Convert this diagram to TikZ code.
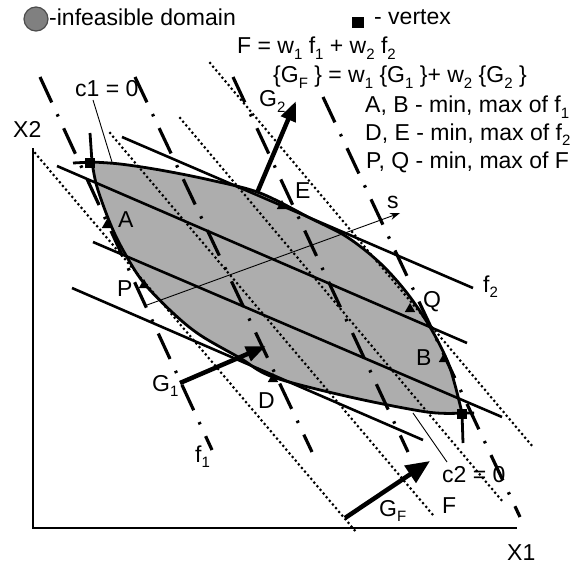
\documentclass[tikz,border=0pt]{standalone}
\usepackage{fontspec}
\setmainfont{Liberation Sans}
\usetikzlibrary{arrows.meta,shapes.geometric}
\newcommand\sbx[1]{\raisebox{-0.25em}{\fontsize{15}{15}\selectfont #1}}
\begin{document}
\begin{tikzpicture}[x=1pt,y=-1pt,
  lab/.style={font=\fontsize{23}{26}\selectfont, inner sep=0pt, anchor=base west},
  fone/.style={line width=3.2pt, dash pattern=on 28pt off 13pt on 2.5pt off 13pt},
  ftwo/.style={line width=2.6pt},
  fdot/.style={line width=3pt, line cap=round, dash pattern=on 0pt off 4.8pt},
  bnd/.style={line width=2.8pt, line join=round},
  grad/.style={line width=4.5pt, -{Triangle[length=20pt,width=15pt]}},
  thinl/.style={line width=0.9pt},
  tri/.style={regular polygon, regular polygon sides=3, fill=black, inner sep=0pt, minimum size=12pt},
  vtx/.style={fill=black, inner sep=0pt, minimum size=10pt},
  dom/.style={fill=black!32},
]
\useasboundingbox (0,0) rectangle (577,564);

% domain fill
\fill[dom] plot[smooth, tension=0.55] coordinates {(92,162) (120,164) (160,170) (210,180) (260,193) (310,218) (347,237) (380,263) (407,293) (430,327) (447,360) (455,385) (462,413)}
  -- plot[smooth, tension=0.55] coordinates {(462,413) (427,412) (350,397) (273,377) (240,358) (200,335) (173,313) (143,282) (123,250) (110,223) (97,187) (92,162)} -- cycle;

% axes
\coordinate (ax0) at (33,528);
\coordinate (ax2) at (33,148);
\coordinate (ax1) at (517,528);
\draw[line width=1.5pt] (ax2) -- (ax0) -- (ax1);

% F contours (dotted)
\coordinate (d1a) at (35,153);  \coordinate (d1b) at (357,533);
\coordinate (d2a) at (110,133); \coordinate (d2b) at (433,515);
\coordinate (d3a) at (180,118); \coordinate (d3b) at (503,502);
\coordinate (d4a) at (210,63);  \coordinate (d4b) at (533,447);
\draw[fdot] (d1a) -- (d1b);
\draw[fdot] (d2a) -- (d2b);
\draw[fdot] (d3a) -- (d3b);
\draw[fdot] (d4a) -- (d4b);

% f2 contours (solid)
\coordinate (s1a) at (122,137); \coordinate (s1b) at (473,288);
\coordinate (s2a) at (57,166);  \coordinate (s2b) at (467,343);
\coordinate (s3a) at (93,242);  \coordinate (s3b) at (502,417);
\coordinate (s4a) at (72,288);  \coordinate (s4b) at (423,440);
\draw[ftwo] (s1a) -- (s1b);
\draw[ftwo] (s2a) -- (s2b);
\draw[ftwo] (s3a) -- (s3b);
\draw[ftwo] (s4a) -- (s4b);

% f1 contours (dash-dot)
\coordinate (f1a) at (40,77);   \coordinate (f1b) at (212,450);
\coordinate (f2a) at (135,77);  \coordinate (f2b) at (312,452);
\coordinate (f3a) at (233,77);  \coordinate (f3b) at (408,452);
\coordinate (f4a) at (323,97);  \coordinate (f4b) at (520,517);
\draw[fone] (f1a) -- (f1b);
\draw[fone] (f2a) -- (f2b);
\draw[fone] (f3a) -- (f3b);
\draw[fone] (f4a) -- (f4b);

% boundaries
\draw[bnd] (73,163) -- plot[smooth, tension=0.55] coordinates {(92,162) (120,164) (160,170) (210,180) (260,193) (310,218) (347,237) (380,263) (407,293) (430,327) (447,360) (455,385) (462,413)} -- (463,443);
\draw[bnd] (90,133) -- plot[smooth, tension=0.55] coordinates {(92,162) (97,187) (110,223) (123,250) (143,282) (173,313) (200,335) (240,358) (273,377) (350,397) (427,412) (462,413)} -- (474,413);

% s axis
\coordinate (sa) at (147,305);
\coordinate (sb) at (400,213);
\draw[thinl, -{Stealth[length=10pt,width=7pt]}] (sa) -- (sb);

% gradient arrows
\coordinate (g1a) at (180,383); \coordinate (g1b) at (266,346);
\coordinate (g2a) at (257,193); \coordinate (g2b) at (296,101);
\coordinate (gfa) at (345,518); \coordinate (gfb) at (430,461);
\draw[grad] (g1a) -- (g1b);
\draw[grad] (g2a) -- (g2b);
\draw[grad, -{Triangle[length=24pt,width=20pt]}] (gfa) -- (gfb);

% vertices
\node[vtx] (v1) at (90,163) {};
\node[vtx] (v2) at (462,414) {};

% tangent point markers
\node[tri] (mA) at (107,225) {};
\node[tri] (mP) at (144,285) {};
\node[tri] (mE) at (282,206) {};
\node[tri] (mQ) at (410,309) {};
\node[tri] (mB) at (444,359) {};
\node[tri] (mD) at (273,379) {};

% labels
\node[lab] (tA) at (118,227) {A};
\node[lab] (tP) at (117,296) {P};
\node[lab] (tE) at (295,198) {E};
\node[lab] (tQ) at (423,307) {Q};
\node[lab] (tB) at (416,365) {B};
\node[lab] (tD) at (258,408) {D};
\node[lab] (ts) at (387,208) {s};
\node[lab] (tf2) at (483,292) {f\sbx{2}};
\node[lab] (tf1) at (195,462) {f\sbx{1}};
\node[lab] (tG1) at (152,391) {G\sbx{1}};
\node[lab] (tG2) at (259,107) {G\sbx{2}};
\node[lab] (tGF) at (379,516) {G\sbx{F}};
\node[lab] (tF) at (442,513) {F};
\node[lab] (tX2) at (13,138) {X2};
\node[lab] (tX1) at (507,560) {X1};
\node[lab] (tc1) at (75,97) {c1 = 0};
\node[lab] (tc2) at (442,482) {c2 = 0};
\coordinate (c1p) at (112,162);
\coordinate (c2p) at (413,413);
\draw[thinl] (93,100) -- (c1p);
\draw[thinl] (447,462) -- (c2p);

% legend
\node[circle, fill=black!50, draw=black!70, line width=1.2pt, minimum size=24pt, inner sep=0pt] (legc) at (36,19) {};
\node[lab] (legt) at (49,26) {-infeasible domain};
\node[fill=black, minimum width=12pt, minimum height=11pt, inner sep=0pt] (legv) at (358,23) {};
\node[lab] (legvt) at (374,25) {- vertex};
\node[lab] (eq1) at (237,54) {F = w\sbx{1} f\sbx{1} + w\sbx{2} f\sbx{2}};
\node[lab] (eq2) at (273,83) {\{G\sbx{F} \} = w\sbx{1} \{G\sbx{1} \}+ w\sbx{2} \{G\sbx{2} \}};
\node[lab] (le1) at (365,113) {A, B - min, max of f\sbx{1}};
\node[lab] (le2) at (365,140) {D, E - min, max of f\sbx{2}};
\node[lab] (le3) at (366,168) {P, Q - min, max of F};
\end{tikzpicture}
\end{document}
